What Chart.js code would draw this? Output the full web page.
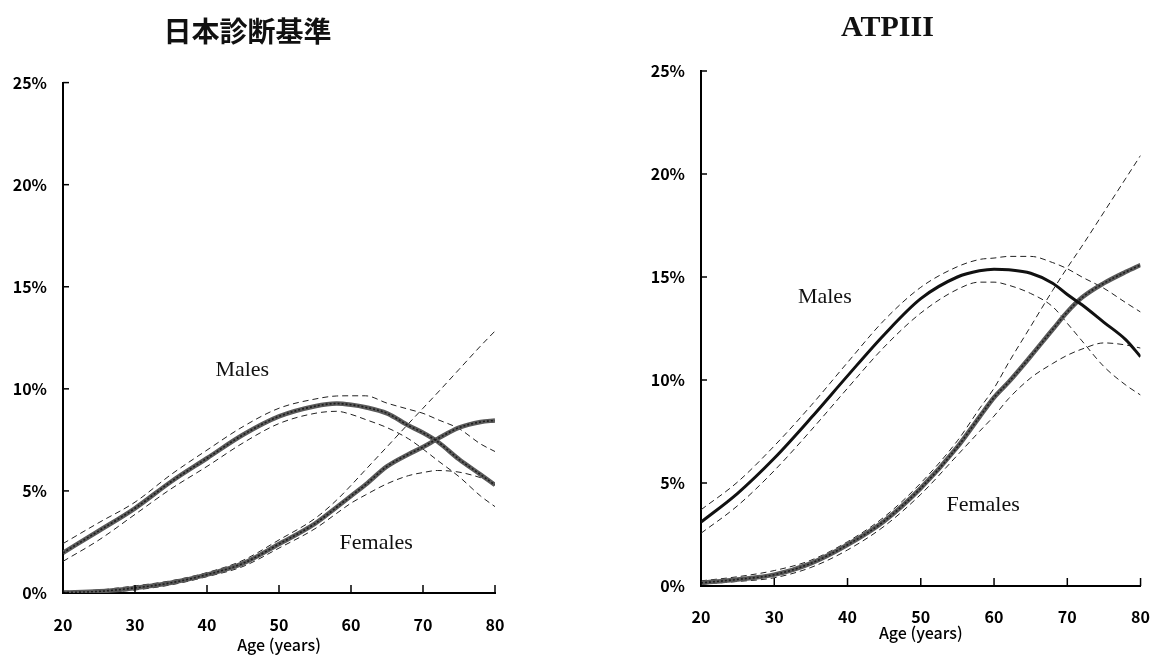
<!DOCTYPE html>
<html>
<head>
    <meta charset="utf-8">
    <title>Metabolic syndrome prevalence by age</title>
    <style>
        body {
            margin: 0;
            background: #ffffff;
            width: 1171px;
            height: 659px;
            position: relative;
            overflow: hidden;
        }
        canvas {
            position: absolute;
            top: 0;
        }
        #jpChart { left: 0; }
        #atpChart { left: 617px; }
    </style>
    <script src="https://cdn.jsdelivr.net/npm/chart.js"></script>
</head>
<body>
    <canvas id="jpChart" width="540" height="659"></canvas>
    <canvas id="atpChart" width="554" height="659"></canvas>
    <script>
        // ages at which each curve was read
        const ages = [20, 25, 30, 35, 40, 45, 50, 55, 58, 60, 62, 65, 68, 70, 72, 75, 78, 80];
        const ageTicks = [20, 30, 40, 50, 60, 70, 80];
        const pctTicks = [0, 5, 10, 15, 20, 25];

        // 日本診断基準 (%)
        const jpMales      = [1.97, 3.05, 4.15, 5.45, 6.6, 7.75, 8.65, 9.15, 9.28, 9.22, 9.1, 8.8, 8.2, 7.85, 7.42, 6.55, 5.8, 5.29];
        const jpMalesHigh  = [2.42, 3.45, 4.45, 5.8, 7.0, 8.15, 9.05, 9.5, 9.65, 9.66, 9.66, 9.3, 9.0, 8.8, 8.5, 8.05, 7.3, 6.93];
        const jpMalesLow   = [1.55, 2.6, 3.85, 5.1, 6.2, 7.35, 8.3, 8.8, 8.9, 8.75, 8.5, 8.1, 7.55, 7.05, 6.5, 5.7, 4.75, 4.23];
        const jpFemales     = [0.02, 0.08, 0.25, 0.5, 0.9, 1.45, 2.4, 3.4, 4.2, 4.75, 5.3, 6.2, 6.8, 7.15, 7.55, 8.1, 8.38, 8.45];
        const jpFemalesHigh = [0.08, 0.15, 0.35, 0.6, 1.0, 1.6, 2.6, 3.65, 4.55, 5.27, 6.03, 7.16, 8.3, 9.05, 9.8, 10.95, 12.1, 12.83];
        const jpFemalesLow  = [0.0, 0.03, 0.15, 0.4, 0.8, 1.3, 2.2, 3.15, 3.9, 4.4, 4.8, 5.35, 5.75, 5.9, 6.0, 5.92, 5.65, 5.4];

        // ATPIII (%)
        const atpMales      = [3.1, 4.5, 6.2, 8.15, 10.2, 12.2, 13.95, 15.0, 15.3, 15.38, 15.35, 15.18, 14.7, 14.15, 13.65, 12.8, 11.95, 11.13];
        const atpMalesHigh  = [3.7, 5.05, 6.8, 8.75, 10.85, 12.9, 14.5, 15.5, 15.85, 15.92, 16.0, 16.0, 15.7, 15.4, 15.0, 14.45, 13.75, 13.3];
        const atpMalesLow   = [2.56, 3.9, 5.6, 7.55, 9.6, 11.6, 13.25, 14.4, 14.75, 14.75, 14.6, 14.2, 13.56, 12.75, 11.9, 10.65, 9.75, 9.27];
        const atpFemales     = [0.15, 0.32, 0.55, 1.1, 2.0, 3.15, 4.75, 6.75, 8.2, 9.15, 9.9, 11.15, 12.45, 13.3, 14.0, 14.7, 15.25, 15.58];
        const atpFemalesHigh = [0.25, 0.45, 0.75, 1.25, 2.15, 3.35, 5.0, 7.05, 8.6, 9.6, 10.85, 12.6, 14.35, 15.45, 16.5, 18.15, 19.8, 20.9];
        const atpFemalesLow  = [0.1, 0.22, 0.4, 0.9, 1.75, 2.9, 4.45, 6.35, 7.5, 8.25, 9.1, 10.1, 10.8, 11.2, 11.5, 11.8, 11.7, 11.55];

        const tickFont = { family: "'Noto Sans CJK JP', sans-serif", size: 16, weight: 'bold' };

        function points(values) {
            return values.map((v, i) => ({ x: ages[i], y: v }));
        }

        const smooth = { pointRadius: 0, cubicInterpolationMode: 'monotone' };

        // thin dashed confidence band line
        function bandLine(values) {
            return Object.assign({
                data: points(values),
                borderColor: '#222',
                borderWidth: 1,
                borderDash: [6, 4],
                order: 5
            }, smooth);
        }

        // thick grey "rope" line: dark speckle (lower order, drawn on top) over a grey body
        function ropeLines(values) {
            return [Object.assign({
                data: points(values),
                borderColor: '#1e1e1e',
                borderWidth: 1.6,
                borderDash: [2, 2],
                order: 1
            }, smooth), Object.assign({
                data: points(values),
                borderColor: '#5a5a5a',
                borderWidth: 4.5,
                order: 2
            }, smooth)];
        }

        function solidLine(values) {
            return Object.assign({
                data: points(values),
                borderColor: '#111',
                borderWidth: 3,
                order: 0
            }, smooth);
        }

        // short tick marks pointing into the plot, plus the Males / Females captions
        const innerTicks = {
            id: 'innerTicks',
            afterDraw(chart, args, opts) {
                const { ctx, scales: { x, y } } = chart;
                ctx.save();
                ctx.strokeStyle = '#000';
                ctx.lineWidth = 1.5;
                ageTicks.forEach(a => {
                    const px = x.getPixelForValue(a);
                    ctx.beginPath();
                    ctx.moveTo(px, y.bottom);
                    ctx.lineTo(px, y.bottom - 8);
                    ctx.stroke();
                });
                pctTicks.forEach(p => {
                    const py = y.getPixelForValue(p);
                    ctx.beginPath();
                    ctx.moveTo(x.left, py);
                    ctx.lineTo(x.left + 6, py);
                    ctx.stroke();
                });
                ctx.fillStyle = '#111';
                ctx.font = "22px 'Liberation Serif', serif";
                ctx.textAlign = 'center';
                ctx.textBaseline = 'middle';
                (opts.notes || []).forEach(n => {
                    ctx.fillText(n.text, x.getPixelForValue(n.age), y.getPixelForValue(n.pct));
                });
                ctx.restore();
            }
        };

        function makeChart(canvasId, cfg) {
            const ctx = document.getElementById(canvasId).getContext('2d');
            return new Chart(ctx, {
                type: 'line',
                data: { datasets: cfg.datasets },
                options: {
                    responsive: false,
                    animation: false,
                    events: [],
                    layout: { padding: { left: 0, right: cfg.padRight, top: 0, bottom: 0 } },
                    scales: {
                        x: {
                            type: 'linear',
                            min: 20,
                            max: 80,
                            afterFit: s => { s.height = cfg.xHeight; },
                            afterBuildTicks: s => { s.ticks = ageTicks.map(v => ({ value: v })); },
                            grid: { display: false, drawTicks: false },
                            border: { display: true, color: '#000', width: 2 },
                            ticks: { color: '#000', font: tickFont, padding: cfg.xTickPad, maxRotation: 0 },
                            title: {
                                display: true,
                                text: 'Age (years)',
                                color: '#000',
                                font: { family: "'Noto Sans CJK JP', sans-serif", size: 16, weight: '500' },
                                padding: { top: 0, bottom: cfg.xTitlePad }
                            }
                        },
                        y: {
                            type: 'linear',
                            min: 0,
                            max: 25,
                            afterFit: s => { s.width = cfg.yWidth; },
                            afterBuildTicks: s => { s.ticks = pctTicks.map(v => ({ value: v })); },
                            grid: { display: false, drawTicks: false },
                            border: { display: true, color: '#000', width: 2 },
                            ticks: {
                                color: '#000',
                                font: tickFont,
                                padding: 16,
                                callback: v => v + '%'
                            }
                        }
                    },
                    plugins: {
                        legend: { display: false },
                        tooltip: { enabled: false },
                        title: {
                            display: true,
                            text: cfg.title,
                            color: '#111',
                            font: cfg.titleFont,
                            padding: cfg.titlePad
                        },
                        innerTicks: { notes: cfg.notes }
                    }
                },
                plugins: [innerTicks]
            });
        }

        makeChart('jpChart', {
            title: '日本診断基準',
            titleFont: { family: "'Noto Sans CJK JP', sans-serif", size: 28, weight: 'bold' },
            titlePad: { top: 15, bottom: 34 },
            padRight: 45,
            xHeight: 66,
            yWidth: 63,
            xTickPad: 22,
            xTitlePad: 4,
            notes: [
                { text: 'Males', age: 44.9, pct: 10.9 },
                { text: 'Females', age: 63.5, pct: 2.45 }
            ],
            datasets: [
                bandLine(jpMalesHigh),
                bandLine(jpMalesLow),
                bandLine(jpFemalesHigh),
                bandLine(jpFemalesLow),
                ...ropeLines(jpFemales),
                ...ropeLines(jpMales)
            ]
        });

        makeChart('atpChart', {
            title: 'ATPIII',
            titleFont: { family: "'Liberation Serif', serif", size: 30, weight: 'bold' },
            titlePad: { top: 10, bottom: 25 },
            padRight: 13,
            xHeight: 73,
            yWidth: 84,
            xTickPad: 21,
            xTitlePad: 16,
            notes: [
                { text: 'Males', age: 36.9, pct: 14.0 },
                { text: 'Females', age: 58.5, pct: 3.9 }
            ],
            datasets: [
                bandLine(atpMalesHigh),
                bandLine(atpMalesLow),
                bandLine(atpFemalesHigh),
                bandLine(atpFemalesLow),
                ...ropeLines(atpFemales),
                solidLine(atpMales)
            ]
        });
    </script>
</body>
</html>
